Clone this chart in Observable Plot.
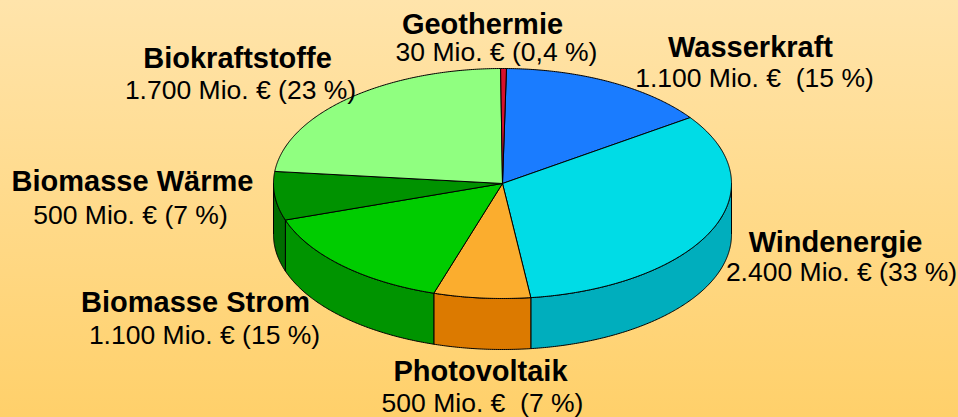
<!DOCTYPE html>
<html><head><meta charset="utf-8">
<script src="https://cdn.jsdelivr.net/npm/d3@7"></script>
<script src="https://cdn.jsdelivr.net/npm/@observablehq/plot@0.6"></script>
<style>
html,body{margin:0;padding:0;}
body{width:958px;height:417px;overflow:hidden;background:linear-gradient(to bottom,#ffe4ab,#ffd06a);}
#chart svg{display:block;}
</style></head><body><div id="chart"></div>
<script>
// ---- data ----
const categories = ["Wasserkraft","Windenergie","Photovoltaik","Biomasse Strom","Biomasse Wärme","Biokraftstoffe","Geothermie"];
const valuesMioEUR = [1100, 2400, 500, 1100, 500, 1700, 30];
const valueLabels = ["1.100 Mio. €\u00a0 (15 %)", "2.400 Mio. € (33 %)", "500 Mio. €\u00a0 (7 %)", "1.100 Mio. € (15 %)", "500 Mio. € (7 %)", "1.700 Mio. € (23 %)", "30 Mio. € (0,4 %)"];

// ---- styles ----
const topColors  = ["#1a7cff","#00dce6","#fbad2e","#00cc00","#009200","#90ff80","#d8102c"];
const sideColors = ["#1560cc","#00aebd","#dc7a00","#009400","#006c00","#6ccc5c","#a00c20"];

// ---- layout ----
const pie = {cx: 502, cy: 183, rx: 229, ry: 115, depth: 51, startAngle: 1};
const namePos  = [[750,56],[835,251],[480,380],[195,311],[132,190],[237,67],[482,33]];
const valuePos = [[754,86],[841,280],[482,411],[204,343],[130,223],[240,98],[496,60]];

const rad = Math.PI / 180;
const ell = (t, dz) => [pie.cx + pie.rx * Math.sin(t * rad), pie.cy - pie.ry * Math.cos(t * rad) + dz];

const total = d3.sum(valuesMioEUR);
const topRows = [], sideRows = [];
let cum = 0;
categories.forEach((c, i) => {
  const a0 = pie.startAngle + cum / total * 360; cum += valuesMioEUR[i]; const a1 = pie.startAngle + cum / total * 360;
  // top face
  const n = Math.max(2, Math.ceil((a1 - a0) / 0.5));
  const pts = [[pie.cx, pie.cy]];
  for (let k = 0; k <= n; k++) pts.push(ell(a0 + (a1 - a0) * k / n, 0));
  pts.push([pie.cx, pie.cy]);
  pts.forEach(([x, y]) => topRows.push({key: c, x, y, fill: topColors[i]}));
  // visible outer wall (front half)
  const s = Math.max(a0, 90), e = Math.min(a1, 270);
  if (s < e) {
    const m = Math.max(2, Math.ceil((e - s) / 0.5));
    const w = [];
    for (let k = 0; k <= m; k++) w.push(ell(s + (e - s) * k / m, 0));
    for (let k = m; k >= 0; k--) w.push(ell(s + (e - s) * k / m, pie.depth));
    w.push(w[0]);
    w.forEach(([x, y]) => sideRows.push({key: c, x, y, fill: sideColors[i]}));
  }
});

const nameRows = categories.map((c, i) => ({text: c, x: namePos[i][0], y: namePos[i][1]}));
const valueRows = valueLabels.map((t, i) => ({text: t, x: valuePos[i][0], y: valuePos[i][1]}));

const font = "'Liberation Sans', Arial, Helvetica, sans-serif";
const chart = Plot.plot({
  width: 958, height: 417, margin: 0,
  x: {domain: [0, 958], range: [0, 958], axis: null},
  y: {domain: [0, 417], range: [0, 417], axis: null},
  color: {type: "identity"},
  style: {background: "transparent", overflow: "visible"},
  marks: [
    Plot.line(sideRows, {x: "x", y: "y", z: "key", fill: "fill", stroke: "#000", strokeWidth: 1, strokeLinejoin: "round", curve: "linear"}),
    Plot.line(topRows, {x: "x", y: "y", z: "key", fill: "fill", stroke: "#000", strokeWidth: 1, strokeLinejoin: "round", curve: "linear"}),
    Plot.text(nameRows, {x: "x", y: "y", text: "text", fontFamily: font, fontSize: 29, fontWeight: "bold", textAnchor: "middle", lineAnchor: "bottom", fill: "#000"}),
    Plot.text(valueRows, {x: "x", y: "y", text: "text", fontFamily: font, fontSize: 26.5, textAnchor: "middle", lineAnchor: "bottom", fill: "#000"})
  ]
});
document.getElementById("chart").appendChild(chart);
</script>
</body></html>
